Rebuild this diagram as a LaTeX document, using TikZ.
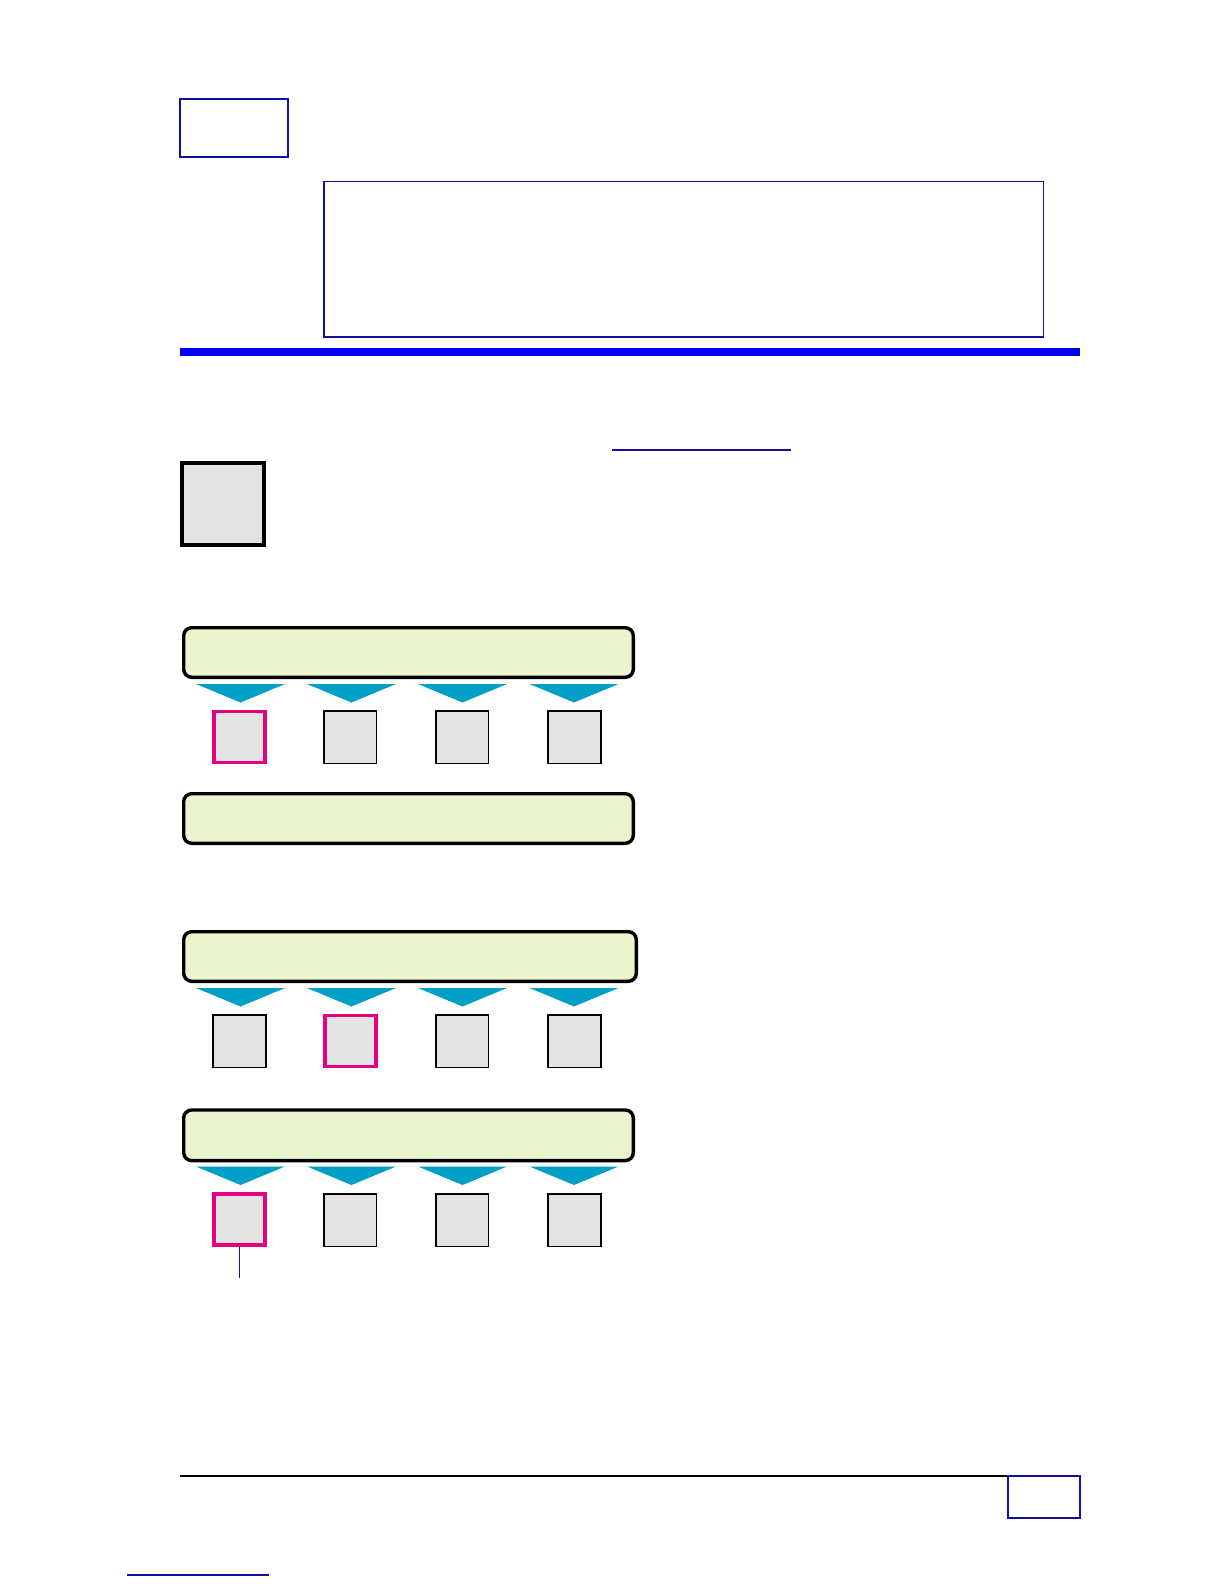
\documentclass[tikz,border=0pt]{standalone}
\usetikzlibrary{positioning}
\definecolor{navyc}{RGB}{16,16,160}
\definecolor{bluebar}{RGB}{0,0,245}
\definecolor{grayfill}{RGB}{227,227,227}
\definecolor{greenfill}{RGB}{235,245,205}
\definecolor{tealc}{RGB}{0,160,198}
\definecolor{pinkc}{RGB}{230,0,126}
\tikzset{
  bluebox/.style={draw=navyc, line width=0.75pt, inner sep=0pt, rectangle},
  greenbar/.style={draw=black, fill=greenfill, line width=1.7pt, rounded corners=4pt, inner sep=0pt, minimum width=224.8pt, minimum height=24.8pt},
  graysq/.style={draw=black, fill=grayfill, line width=0.8pt, inner sep=0pt, minimum width=26.3pt, minimum height=26.3pt},
  pinksq/.style={draw=pinkc, fill=grayfill, line width=1.7pt, inner sep=0pt, minimum width=25.5pt, minimum height=25.5pt},
  tri/.style={fill=tealc},
  navyline/.style={draw=navyc, line width=0.6pt}
}
\newcommand{\trirow}[1]{%
  \foreach \cx in {240.5,351.5,462.5,574}{%
    \fill[tri] (\cx-44.5,#1) -- (\cx+44.5,#1) -- (\cx,#1+18.5) -- cycle;}}
\begin{document}
\begin{tikzpicture}[x=0.5pt,y=-0.5pt]
\useasboundingbox (0,0) rectangle (1224,1584);
% header
\node[bluebox, minimum width=54pt, minimum height=29pt] (hbox) at (234,128) {};
\node[bluebox, minimum width=359.75pt, minimum height=77.75pt] (bigbox) at (683.75,259.25) {};
\fill[bluebar] (180,347.7) rectangle (1080,355.7);
% link underline
\coordinate (la) at (612,450); \coordinate (lb) at (791,450);
\draw[navyline] (la) -- (lb);
% gray thick box
\node[draw=black, fill=grayfill, line width=2pt, inner sep=0pt, minimum width=41pt, minimum height=41pt] (icon) at (223,504) {};
% group 1
\node[greenbar] (bar1) at (408.5,652.5) {};
\trirow{684}
\node[pinksq] (s11) at (239.5,737) {};
\node[graysq] (s12) at (350.3,737) {};
\node[graysq] (s13) at (462,737) {};
\node[graysq] (s14) at (574.5,737) {};
\node[greenbar] (bar2) at (408.5,818.5) {};
% group 2
\node[greenbar, minimum width=226.3pt] (bar3) at (410,956.5) {};
\trirow{988}
\node[graysq] (s21) at (239.5,1041) {};
\node[pinksq] (s22) at (350.3,1041) {};
\node[graysq] (s23) at (462,1041) {};
\node[graysq] (s24) at (574.5,1041) {};
% group 3
\node[greenbar, minimum height=25.3pt] (bar4) at (408.5,1135.3) {};
\trirow{1166.5}
\node[pinksq] (s31) at (239.5,1219.5) {};
\node[graysq] (s32) at (350.3,1220) {};
\node[graysq] (s33) at (462,1220) {};
\node[graysq] (s34) at (574.5,1220) {};
\coordinate (lineend) at (239.5,1278);
\draw[navyline] (s31.south) -- (lineend);
% footer
\coordinate (fa) at (180,1476); \coordinate (fb) at (1080,1476);
\draw[black, line width=0.6pt] (fa) -- (fb);
\node[bluebox, minimum width=36pt, minimum height=21pt] (pagebox) at (1044,1497) {};
\coordinate (ua) at (127,1575); \coordinate (ub) at (269,1575);
\draw[navyline] (ua) -- (ub);
\end{tikzpicture}
\end{document}
